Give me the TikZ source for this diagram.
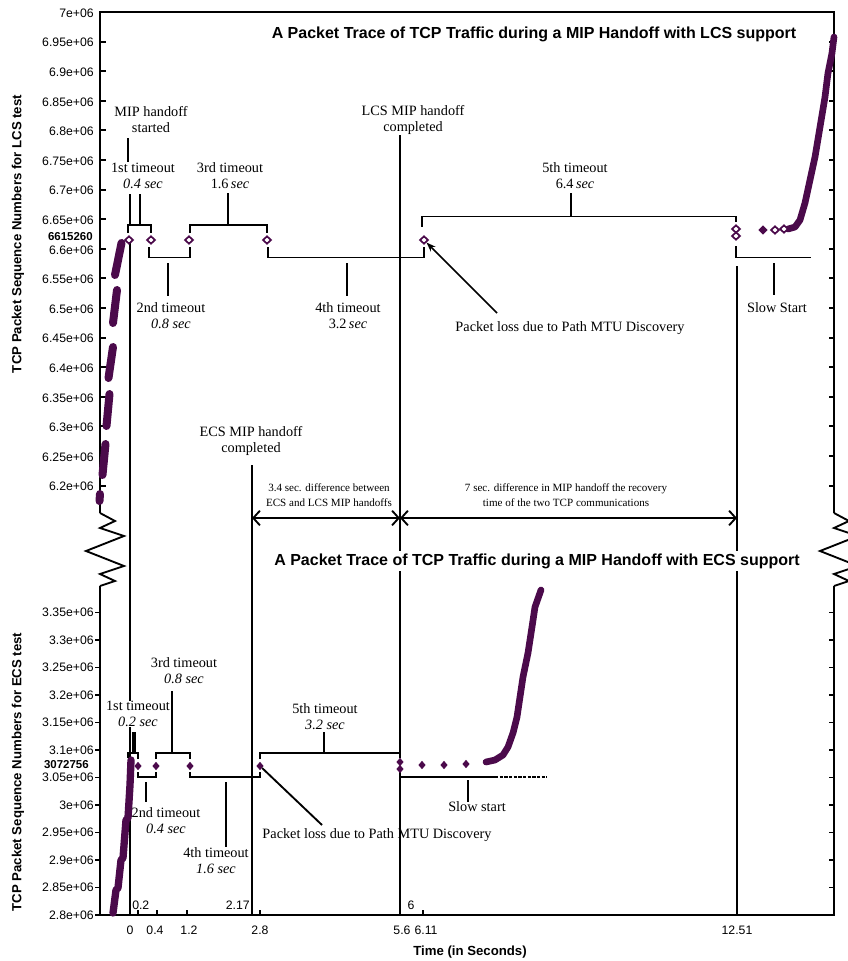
\documentclass[tikz,border=0pt]{standalone}
\usepackage{fontspec}
\setmainfont{Liberation Serif}
\setsansfont{Liberation Sans}
\usetikzlibrary{shapes.geometric, arrows.meta}
\definecolor{trace}{RGB}{75,10,75}
\tikzstyle{lbl} = [
    font=\fontsize{10.7}{12}\selectfont,
    inner sep=0pt,
    align=center
]
\tikzstyle{note} = [
    font=\fontsize{8.3}{11}\selectfont,
    inner sep=0pt,
    align=center
]
\tikzstyle{ticklbl} = [
    font=\sffamily\fontsize{9.2}{10}\selectfont,
    inner sep=0pt
]
\tikzstyle{axislbl} = [
    font=\sffamily\bfseries\fontsize{9.9}{11}\selectfont,
    inner sep=0pt
]
\tikzstyle{plottitle} = [
    font=\sffamily\bfseries\fontsize{12}{14}\selectfont,
    fill=white,
    inner sep=2pt
]
\tikzstyle{lcsmark} = [
    diamond,
    draw=trace,
    fill=white,
    line width=1.3pt,
    inner sep=0pt,
    minimum width=6.5pt,
    minimum height=6pt
]
\tikzstyle{ecsmark} = [
    diamond,
    fill=trace,
    inner sep=0pt,
    minimum width=5.5pt,
    minimum height=6.5pt
]
\tikzstyle{brk} = [
    line width=1.4pt
]
\tikzstyle{pkt} = [
    draw=trace,
    line width=5pt,
    line cap=round,
    line join=round
]
\tikzstyle{arrow} = [
    line width=1.1pt,
    -{Stealth[length=7pt,width=5pt]}
]
\tikzstyle{diffarrow} = [
    line width=1.4pt,
    {Straight Barb[length=5pt,width=11pt]}-{Straight Barb[length=5pt,width=11pt]}
]

\begin{document}
\begin{tikzpicture}[x=0.75pt, y=-0.75pt, >=stealth]
    \clip (0,0) rectangle (848,961);
    \fill[white] (0,0) rectangle (848,961);

    % frame with axis breaks
    \draw[brk] (100,513) -- (100,12) -- (834,12) -- (834,513);
    \draw[brk] (100,586) -- (100,915) -- (834,915) -- (834,586);
    \foreach \dx in {0,734}
        \draw[brk, xshift=\dx*0.75pt] (100,513) -- (115,521) -- (100,528) -- (124,536) -- (86,551)
            -- (124,566) -- (100,574) -- (115,581) -- (100,586);

    % y ticks, LCS test
    \foreach \i/\t in {0/7e+06, 1/6.95e+06, 2/6.9e+06, 3/6.85e+06, 4/6.8e+06, 5/6.75e+06,
                       6/6.7e+06, 7/6.65e+06, 8/6.6e+06, 9/6.55e+06, 10/6.5e+06, 11/6.45e+06,
                       12/6.4e+06, 13/6.35e+06, 14/6.3e+06, 15/6.25e+06, 16/6.2e+06} {
        \draw[brk] (100,12+29.6*\i) -- (106,12+29.6*\i);
        \draw[brk] (834,12+29.6*\i) -- (829,12+29.6*\i);
        \node[ticklbl, anchor=east] at (94,13+29.6*\i) {\t};
    }
    % y ticks, ECS test
    \foreach \i/\t in {0/2.8e+06, 1/2.85e+06, 2/2.9e+06, 3/2.95e+06, 4/3e+06, 5/3.05e+06,
                       6/3.1e+06, 7/3.15e+06, 8/3.2e+06, 9/3.25e+06, 10/3.3e+06, 11/3.35e+06} {
        \draw[brk] (100,915-27.5*\i) -- (95,915-27.5*\i);
        \draw[brk] (834,915-27.5*\i) -- (829,915-27.5*\i);
        \node[ticklbl, anchor=east] at (94,915-27.5*\i) {\t};
    }
    \node (lcsval) [ticklbl, anchor=east, font=\sffamily\bfseries\fontsize{8.6}{10}\selectfont] at (93,237) {6615260};
    \node (ecsval) [ticklbl, anchor=east, font=\sffamily\bfseries\fontsize{8.6}{10}\selectfont] at (89,765) {3072756};

    % x ticks
    \foreach \x in {138,157,187,260,423,737}
        \draw[brk] (\x,915) -- (\x,910);
    \foreach \x/\t in {130/0, 155/0.4, 189/1.2, 260/2.8, 402/5.6, 426/6.11, 737/12.51}
        \node[ticklbl] at (\x,930) {\t};
    \node (t02) [ticklbl, anchor=west] at (132,905) {0.2};
    \node (t217) [ticklbl, anchor=east] at (250,905) {2.17};
    \node (t6) [ticklbl] at (411,905) {6};

    % axis labels
    \node (ylcs) [axislbl, rotate=90] at (18,234) {TCP Packet Sequence Numbers for LCS test};
    \node (yecs) [axislbl, rotate=90] at (18,772) {TCP Packet Sequence Numbers for ECS test};
    \node (xlab) [axislbl] at (470,952) {Time (in Seconds)};

    % handoff lines
    \coordinate (start) at (130,243);
    \coordinate (startend) at (130,915);
    \draw[brk] (start) -- (startend);
    \draw[brk] (400,135) -- (400,758);
    \draw[brk] (400,771) -- (400,915);
    \draw[brk] (252,465) -- (252,915);
    \draw[brk] (737,266) -- (737,915);

    % LCS packets
    \draw[pkt, line width=6pt] (99.5,501) -- (100,494);
    \draw[pkt, line width=6pt] (102.5,475) -- (105.5,444);
    \draw[pkt, line width=6pt] (106.5,426) -- (109.5,394);
    \draw[pkt, line width=6pt] (108.5,378) -- (113,347);
    \draw[pkt, line width=6pt] (113,323) -- (117,290);
    \draw[pkt, line width=6pt] (115,275) -- (121.5,243);
    \draw[pkt] (788,229) -- (795,227) -- (800,220) -- (805,203) -- (810,180) -- (815,157)
        -- (820,127) -- (825,97) -- (828,73) -- (832,53) -- (834,37);

    \node (m1) [lcsmark] at (129,240) {};
    \node (m2) [lcsmark] at (151,240) {};
    \node (m3) [lcsmark] at (189,240) {};
    \node (m4) [lcsmark] at (267,240) {};
    \node (m5) [lcsmark] at (424,240) {};
    \node (m6a) [lcsmark] at (736,229) {};
    \node (m6b) [lcsmark] at (736,236) {};
    \node (m7) [ecsmark, minimum width=7pt, minimum height=7pt] at (763,230) {};
    \node (m8) [lcsmark] at (775,230) {};
    \node (m9) [lcsmark] at (784,229) {};

    % LCS timeouts
    \draw[brk] (128,233) |- (151,225) -- (151,233);
    \draw[brk] (149,247) |- (190,257.5) -- (190,247);
    \draw[brk] (190,233) |- (267,225) -- (267,233);
    \draw[brk] (268,247) |- (424,257.5) -- (424,247);
    \draw[brk] (422,226.5) |- (736,216.5) -- (736,222);
    \draw[brk] (736,246) |- (811,257.5);

    \node (mipstart) [lbl] at (151,120) {MIP handoff\\started};
    \node (lcsdone) [lbl] at (413,120) {LCS MIP handoff\\completed};
    \node (l1st) [lbl] at (143,176) {1st timeout\\\textit{0.4 sec}};
    \node (l2nd) [lbl] at (171,316) {2nd timeout\\\textit{0.8 sec}};
    \node (l3rd) [lbl] at (230,176) {3rd timeout\\1.6\,\textit{sec}};
    \node (l4th) [lbl] at (348,316) {4th timeout\\3.2\,\textit{sec}};
    \node (l5th) [lbl] at (575,176) {5th timeout\\6.4\,\textit{sec}};
    \node (lslow) [lbl] at (777,308) {Slow Start};
    \node (lloss) [lbl] at (570,328) {Packet loss due to Path MTU Discovery};

    \draw[brk] (128,138) -- (128,162);
    \draw[brk] (130,194) -- (130,225);
    \draw[brk] (140,194) -- (140,225);
    \draw[brk] (168,263) -- (168,296);
    \draw[brk] (228,193) -- (228,225);
    \draw[brk] (347,263) -- (347,296);
    \draw[brk] (571,193) -- (571,216.5);
    \draw[brk] (774,263) -- (774,295);
    \coordinate (lossfoot) at (497,313);
    \draw[arrow] (lossfoot) -- (m5);

    % difference arrows
    \coordinate (ecsmid) at (252,518);
    \coordinate (lcsmid) at (400,518);
    \coordinate (recmid) at (737,518);
    \draw[diffarrow] (ecsmid) -- (lcsmid);
    \draw[diffarrow] (lcsmid) -- (recmid);
    \node (d34) [note] at (329,495) {3.4 sec. difference between\\ECS and LCS MIP handoffs};
    \node (d7) [note] at (566,495) {7 sec. difference in MIP handoff the recovery\\time of the two TCP communications};
    \node (ecsdone) [lbl] at (251,441) {ECS MIP handoff\\completed};

    % titles
    \node (toplcs) [plottitle] at (534,34) {A Packet Trace of TCP Traffic during a MIP Handoff with LCS support};
    \node (topecs) [plottitle] at (537,561) {A Packet Trace of TCP Traffic during a MIP Handoff with ECS support};

    % ECS packets
    \draw[pkt, line width=5.5pt] (113,913) -- (116,890) -- (118,888) -- (121,860) -- (123,858) -- (126,820)
        -- (128,818) -- (130,785) -- (131,760);
    \draw[pkt] (486,762) -- (495,760) -- (503,755) -- (508,747) -- (513,733) -- (517,717)
        -- (520,697) -- (523,677) -- (528,653) -- (532,627) -- (535,607) -- (541,590);

    \node (e1) [ecsmark] at (138,766) {};
    \node (e2) [ecsmark] at (156,766) {};
    \node (e3) [ecsmark] at (190,766) {};
    \node (e4) [ecsmark] at (260,766) {};
    \node (e5a) [ecsmark] at (400,762) {};
    \node (e5b) [ecsmark] at (400,769) {};
    \node (e6) [ecsmark] at (422,765) {};
    \node (e7) [ecsmark] at (444,765) {};
    \node (e8) [ecsmark] at (466,764) {};

    % ECS timeouts
    \draw[brk] (128,758) |- (138,753) -- (138,759);
    \draw[brk] (138,772) |- (156,777) -- (156,772);
    \draw[brk] (156,759) |- (190,753) -- (190,759);
    \draw[brk] (190,772) |- (260,777) -- (260,772);
    \draw[brk] (260,759) |- (400,753) -- (400,758);
    \draw[brk] (400,777) -- (495,777);
    \draw[brk, dash pattern=on 2.5pt off 1pt] (495,777) -- (547,777);

    \node (e1st) [lbl, fill=white] at (138,714) {1st timeout\\\textit{0.2 sec}};
    \node (e2nd) [lbl] at (166,821) {2nd timeout\\\textit{0.4 sec}};
    \node (e3rd) [lbl] at (184,671) {3rd timeout\\\textit{0.8 sec}};
    \node (e4th) [lbl] at (216,861) {4th timeout\\\textit{1.6 sec}};
    \node (e5th) [lbl] at (325,717) {5th timeout\\\textit{3.2 sec}};
    \node (eslow) [lbl] at (477,807) {Slow start};
    \node (eloss) [lbl] at (377,835) {Packet loss due to Path MTU Discovery};

    \draw[brk] (133,732) -- (133,753);
    \draw[brk] (135,732) -- (135,753);
    \draw[brk] (146,782) -- (146,802);
    \draw[brk] (172,691) -- (172,753);
    \draw[brk] (226,782) -- (226,847);
    \draw[brk] (324,732) -- (324,753);
    \draw[brk] (468,780) -- (468,802);
    \coordinate (elossfoot) at (322,825);
    \draw[brk] (e4) -- (elossfoot);
\end{tikzpicture}
\end{document}
